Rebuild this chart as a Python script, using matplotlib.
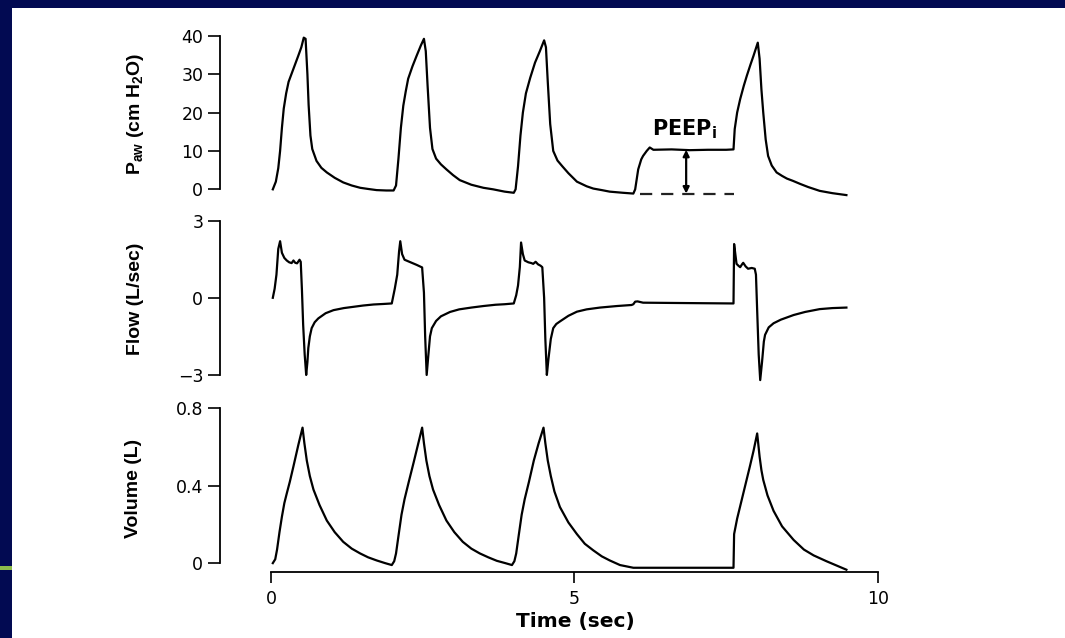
import numpy as np
import matplotlib
matplotlib.use("Agg")
import matplotlib.pyplot as plt
from matplotlib.patches import Rectangle

# airway pressure (cm H2O)
p_time = [0.03, 0.08, 0.12, 0.15, 0.18, 0.21, 0.25, 0.29, 0.37, 0.45, 0.50, 0.54, 0.57, 0.60, 0.62, 0.65,
          0.68, 0.75, 0.83, 0.92, 1.05, 1.19, 1.33, 1.47, 1.60, 1.74, 1.90, 2.02,
          2.06, 2.10, 2.14, 2.18, 2.22, 2.26, 2.33, 2.40, 2.47, 2.52, 2.55, 2.58, 2.62, 2.66, 2.72, 2.80,
          2.89, 3.00, 3.11, 3.30, 3.50, 3.66, 3.85, 4.00,
          4.03, 4.07, 4.11, 4.15, 4.20, 4.27, 4.35, 4.43, 4.50, 4.53, 4.56, 4.60, 4.65, 4.72, 4.80, 4.90,
          5.04, 5.20, 5.31, 5.45, 5.58, 5.80, 5.97,
          6.00, 6.05, 6.10, 6.13, 6.19, 6.24, 6.30, 6.60, 6.90, 7.20, 7.50, 7.62,
          7.64, 7.68, 7.73, 7.79, 7.84, 7.90, 7.95, 8.02, 8.05, 8.08, 8.11, 8.15, 8.19, 8.25, 8.33, 8.42,
          8.50, 8.60, 8.72, 8.85, 9.04, 9.25, 9.48]
p_aw = [0, 2, 5.5, 10, 16, 21, 25, 28, 31.4, 34.8, 37, 39.5, 39.2, 30, 22, 14,
        10.5, 7.4, 5.6, 4.4, 3.0, 1.8, 1.0, 0.4, 0.1, -0.2, -0.3, -0.3,
        1, 8, 16, 21.8, 25.5, 28.8, 32, 34.8, 37.5, 39.2, 36, 27, 16, 10.5, 8, 6.5,
        5.2, 3.7, 2.4, 1.2, 0.4, 0, -0.6, -0.9,
        0, 6, 14, 20, 25, 29, 33, 36, 38.8, 37, 28, 17, 10, 7.5, 6.0, 4.2,
        2.0, 0.8, 0.2, -0.2, -0.6, -0.9, -1.1,
        0, 5.2, 7.8, 8.7, 10, 10.9, 10.3, 10.4, 10.2, 10.3, 10.3, 10.4,
        15.7, 20, 23.5, 27, 29.6, 32.5, 34.8, 38.2, 34, 26, 20, 13, 8.7, 6.2, 4.4, 3.5,
        2.8, 2.2, 1.4, 0.6, -0.4, -1.0, -1.5]

# flow (L/sec)
f_time = [0.03, 0.06, 0.09, 0.12, 0.15, 0.18, 0.22, 0.26, 0.30, 0.34, 0.37, 0.40, 0.43, 0.47, 0.49, 0.51,
          0.53, 0.555, 0.58, 0.60, 0.615, 0.64, 0.67, 0.72, 0.78, 0.90, 1.03, 1.20, 1.36, 1.52, 1.69, 1.85, 1.99,
          2.04, 2.08, 2.11, 2.13, 2.16, 2.20, 2.30, 2.40, 2.49, 2.52, 2.54, 2.565, 2.59, 2.62, 2.65, 2.72,
          2.80, 2.95, 3.10, 3.30, 3.50, 3.70, 3.85, 4.00,
          4.04, 4.07, 4.10, 4.12, 4.15, 4.18, 4.24, 4.29, 4.32, 4.36, 4.40, 4.44, 4.47, 4.50, 4.52, 4.545,
          4.57, 4.61, 4.65, 4.70, 4.76, 4.90, 5.04, 5.20, 5.42, 5.70, 5.94, 5.97, 6.00, 6.04, 6.13, 6.60,
          7.10, 7.62, 7.63, 7.65, 7.67, 7.70, 7.73, 7.76, 7.78, 7.82, 7.86, 7.92, 7.97, 7.99, 8.01, 8.035,
          8.06, 8.09, 8.12, 8.14, 8.20, 8.28, 8.40, 8.61, 8.80, 9.04, 9.25, 9.48]
flow = [0, 0.35, 0.9, 1.9, 2.2, 1.75, 1.55, 1.45, 1.38, 1.35, 1.45, 1.36, 1.34, 1.48, 1.40, 0.3,
        -1.05, -2.2, -3.0, -2.5, -1.95, -1.5, -1.18, -0.95, -0.8, -0.6, -0.48, -0.4, -0.35, -0.3, -0.26, -0.24, -0.22,
        0.36, 0.9, 1.8, 2.2, 1.7, 1.48, 1.38, 1.28, 1.18, 0.2, -1.5, -3.0, -2.3, -1.5, -1.18, -0.9,
        -0.72, -0.55, -0.45, -0.38, -0.32, -0.27, -0.25, -0.22,
        0.1, 0.48, 1.2, 2.15, 1.7, 1.45, 1.38, 1.35, 1.32, 1.40, 1.30, 1.25, 1.19, 0.0, -1.6, -3.0,
        -2.4, -1.6, -1.18, -1.02, -0.92, -0.7, -0.54, -0.45, -0.38, -0.32, -0.28, -0.25, -0.15, -0.14, -0.19, -0.2,
        -0.21, -0.22, 2.09, 1.7, 1.32, 1.25, 1.19, 1.30, 1.36, 1.22, 1.13, 1.16, 1.13, 0.9, -0.5, -2.2,
        -3.2, -2.5, -1.7, -1.44, -1.15, -0.99, -0.85, -0.67, -0.55, -0.44, -0.40, -0.38]

# volume (L)
v_time = [0.03, 0.07, 0.10, 0.14, 0.18, 0.22, 0.26, 0.31, 0.37, 0.45, 0.52, 0.55, 0.59, 0.64, 0.70, 0.80,
          0.92, 1.05, 1.19, 1.33, 1.47, 1.60, 1.74, 1.88, 1.99,
          2.03, 2.06, 2.10, 2.15, 2.20, 2.27, 2.35, 2.42, 2.49, 2.52, 2.56, 2.61, 2.67, 2.77, 2.89, 3.02,
          3.16, 3.30, 3.44, 3.58, 3.72, 3.86, 3.97,
          4.01, 4.04, 4.08, 4.13, 4.18, 4.25, 4.33, 4.41, 4.49, 4.52, 4.56, 4.61, 4.67, 4.76, 4.90, 5.04,
          5.17, 5.31, 5.45, 5.58, 5.75, 5.97, 6.50, 7.00, 7.62,
          7.63, 7.68, 7.75, 7.82, 7.89, 7.95, 8.01, 8.05, 8.08, 8.11, 8.18, 8.28, 8.42, 8.61, 8.78, 8.94,
          9.15, 9.30, 9.48]
volume = [0.0, 0.02, 0.07, 0.16, 0.24, 0.31, 0.36, 0.42, 0.50, 0.61, 0.70, 0.62, 0.53, 0.45, 0.38, 0.30,
          0.22, 0.16, 0.11, 0.075, 0.05, 0.03, 0.014, 0.0, -0.01,
          0.01, 0.05, 0.14, 0.25, 0.33, 0.42, 0.52, 0.61, 0.70, 0.62, 0.53, 0.45, 0.38, 0.30, 0.22, 0.16,
          0.11, 0.075, 0.05, 0.03, 0.012, 0.0, -0.01,
          0.01, 0.05, 0.14, 0.25, 0.33, 0.42, 0.53, 0.62, 0.70, 0.62, 0.53, 0.45, 0.37, 0.29, 0.21, 0.15,
          0.10, 0.066, 0.035, 0.014, -0.01, -0.024, -0.024, -0.024, -0.024,
          0.15, 0.23, 0.32, 0.41, 0.50, 0.58, 0.67, 0.55, 0.48, 0.43, 0.35, 0.27, 0.19, 0.12, 0.07, 0.04,
          0.01, -0.01, -0.034]

# PEEPi marker: baseline, plateau level and time of the arrow
peep_base = -1.1
peep_level = 10.3
peep_span = [6.08, 7.62]
peep_arrow_t = 6.84

plt.rcParams['font.family'] = ['DejaVu Sans']
plt.rcParams['mathtext.default'] = 'regular'

fig = plt.figure(figsize=(10.65, 6.38), dpi=100)
fig.patch.set_facecolor('#020a52')
fig.add_artist(Rectangle((12 / 1065, 0), 1, 1 - 8 / 638, transform=fig.transFigure,
                         facecolor='white', edgecolor='none', zorder=0))
# green accent of the slide on the left border
fig.add_artist(Rectangle((0, 1 - 570 / 638), 12 / 1065, 4 / 638, transform=fig.transFigure,
                         facecolor='#8dbb4c', edgecolor='none', zorder=0))

left, width = 220 / 1065, 661 / 1065
ax_p = fig.add_axes([left, 0.6912, width, 0.2588])
ax_f = fig.add_axes([left, 0.4002, width, 0.2580])
ax_v = fig.add_axes([left, 0.1028, width, 0.2633])

lw = 1.6
ax_p.plot(p_time, p_aw, color='black', lw=lw)
ax_f.plot(f_time, flow, color='black', lw=lw)
ax_v.plot(v_time, volume, color='black', lw=lw)

# PEEPi dashed baseline and double arrow
ax_p.plot(peep_span, [peep_base, peep_base], color='#222222', lw=1.6, ls=(0, (5.5, 4)))
ax_p.annotate('', xy=(peep_arrow_t, peep_base), xytext=(peep_arrow_t, peep_level),
              arrowprops=dict(arrowstyle='<|-|>', color='black', lw=1.6,
                              mutation_scale=9, shrinkA=0, shrinkB=0))
ax_p.text(peep_arrow_t - 0.02, 12.6, r'PEEP$_{i}$', ha='center', va='bottom',
          fontsize=15, fontweight='bold')

ax_p.set_ylim(-2, 41)
ax_p.set_yticks([0, 10, 20, 30, 40])
ax_p.spines['left'].set_bounds(0, 40)

ax_f.set_ylim(-3.3, 3.1)
ax_f.set_yticks([-3, 0, 3])
ax_f.set_yticklabels(['\u22123', '0', '3'])
ax_f.spines['left'].set_bounds(-3, 3)

ax_v.set_ylim(-0.048, 0.82)
ax_v.set_yticks([0, 0.4, 0.8])
ax_v.set_yticklabels(['0', '0.4', '0.8'])
ax_v.spines['left'].set_bounds(0, 0.8)

for ax in (ax_p, ax_f, ax_v):
    ax.set_xlim(-0.84, 10.05)
    ax.set_facecolor('none')
    for s in ('top', 'right'):
        ax.spines[s].set_visible(False)
    ax.spines['left'].set_linewidth(1.3)
    ax.tick_params(axis='y', length=9, width=1.2, pad=3, labelsize=12.5)

for ax in (ax_p, ax_f):
    ax.spines['bottom'].set_visible(False)
    ax.set_xticks([])

ax_v.spines['bottom'].set_bounds(0, 10)
ax_v.spines['bottom'].set_linewidth(1.3)
ax_v.set_xticks([0, 5, 10])
ax_v.tick_params(axis='x', length=8, width=1.2, pad=5, labelsize=12.5)

label_kw = dict(rotation=90, ha='center', va='center', fontsize=14, fontweight='bold',
                family=['Liberation Sans'])
fig.text(136 / 1065, 1 - 114 / 638, r'P$_{aw}$ (cm H$_{2}$O)', **label_kw)
fig.text(136 / 1065, 1 - 299 / 638, 'Flow (L/sec)', **label_kw)
fig.text(134 / 1065, 1 - 488 / 638, 'Volume (L)', **label_kw)
fig.text(575 / 1065, 1 - 622 / 638, 'Time (sec)', ha='center', va='center',
         fontsize=14.5, fontweight='bold')

fig.savefig('out.png', dpi=100, facecolor=fig.get_facecolor())
